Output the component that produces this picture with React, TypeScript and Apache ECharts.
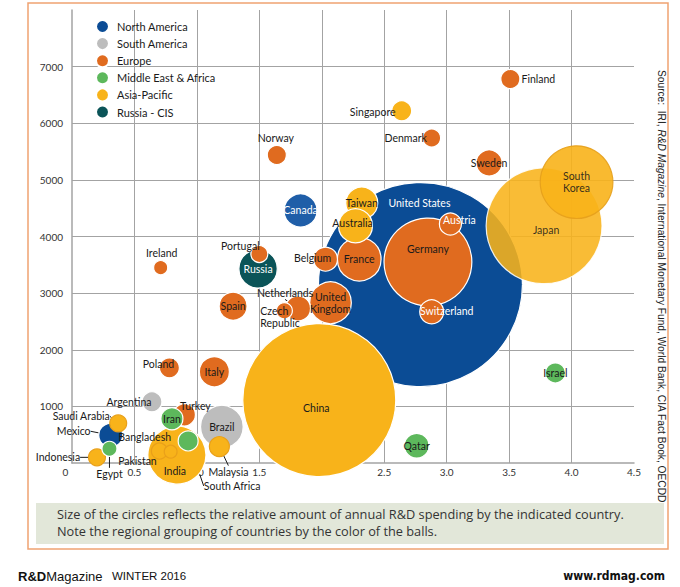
import React, { useEffect, useRef } from "react";
import * as echarts from "echarts";

// ---------- DATA ----------
// Regions (legend order)
const regions = [
  "North America",
  "South America",
  "Europe",
  "Middle East & Africa",
  "Asia-Pacific",
  "Russia - CIS",
];

// Each row: [country, R&D as % of GDP (x), researchers per million (y), R&D spending, $B (bubble area)]
type Row = [string, number, number, number];

const northAmerica: Row[] = [
  ["United States", 2.79, 3150, 480],
  ["Canada", 1.83, 4460, 12.6],
  ["Mexico", 0.31, 490, 6.6],
];

const southAmerica: Row[] = [
  ["Brazil", 1.2, 640, 21],
  ["Argentina", 0.64, 1080, 4.6],
];

const russiaCIS: Row[] = [["Russia", 1.49, 3430, 17]];

const europe: Row[] = [
  ["Finland", 3.51, 6780, 4.2],
  ["Denmark", 2.88, 5740, 3.7],
  ["Norway", 1.64, 5440, 4.2],
  ["Sweden", 3.34, 5300, 7.8],
  ["Germany", 2.85, 3550, 89],
  ["Austria", 3.03, 4220, 5.6],
  ["Switzerland", 2.88, 2670, 6.6],
  ["France", 2.3, 3600, 22],
  ["Belgium", 2.03, 3600, 6.6],
  ["United Kingdom", 2.07, 2830, 20],
  ["Netherlands", 1.81, 2730, 7.2],
  ["Czech Republic", 1.7, 2690, 3.0],
  ["Spain", 1.29, 2770, 9.0],
  ["Ireland", 0.71, 3450, 2.3],
  ["Portugal", 1.5, 3690, 3.3],
  ["Poland", 0.78, 1680, 4.6],
  ["Italy", 1.14, 1610, 10.4],
  ["Turkey", 0.9, 850, 5.6],
];

const asiaPacific: Row[] = [
  ["Singapore", 2.64, 6220, 4.6],
  ["Japan", 3.78, 4190, 155],
  ["South Korea", 4.04, 4960, 61],
  ["Taiwan", 2.32, 4590, 11.8],
  ["Australia", 2.27, 4190, 13.3],
  ["China", 1.98, 1110, 270],
  ["India", 0.84, 140, 39],
  ["Pakistan", 0.7, 210, 3.0],
  ["Bangladesh", 0.79, 200, 1.9],
  ["Malaysia", 1.18, 290, 4.6],
  ["Saudi Arabia", 0.37, 700, 3.3],
  ["Indonesia", 0.2, 100, 3.3],
];

const middleEastAfrica: Row[] = [
  ["Israel", 3.87, 1590, 4.6],
  ["Qatar", 2.76, 305, 7.0],
  ["Iran", 0.8, 780, 5.6],
  ["South Africa", 0.93, 390, 4.6],
  ["Egypt", 0.3, 250, 2.6],
];

const xTicks = [0, 0.5, 1, 1.5, 2, 2.5, 3, 3.5, 4, 4.5];
const yTicks = [0, 1000, 2000, 3000, 4000, 5000, 6000, 7000];

// ---------- STYLE / LAYOUT ----------
const FONT = "Lato, 'Open Sans', sans-serif";
const CAPTION_FONT = "'Open Sans', Lato, sans-serif";
const ARIAL = "'Liberation Sans', Arial, sans-serif";
const NARROW = "'Liberation Sans Narrow', 'DejaVu Sans Condensed', Arial, sans-serif";

const regionColor: Record<string, string> = {
  "North America": "#0b4c95",
  "South America": "#bdbdbd",
  Europe: "#e06b1f",
  "Middle East & Africa": "#5db85c",
  "Asia-Pacific": "#f8b31a",
  "Russia - CIS": "#0b5458",
};

// label offsets (px) from bubble centre
const labelOffset: Record<string, [number, number]> = {
  "United States": [-1, -82],
  Mexico: [-37, -4],
  "Saudi Arabia": [-37, -7],
  Indonesia: [-39, 0],
  Egypt: [0, 25],
  Pakistan: [-22, 10],
  Bangladesh: [-26, -15],
  India: [-2, 16],
  "South Africa": [44, 45],
  Malaysia: [9, 25],
  Argentina: [-23, 0],
  Turkey: [11, -9],
  Poland: [-11, -4],
  Ireland: [1, -15],
  Portugal: [-19, -8],
  Norway: [-1, -17],
  Denmark: [-26, 0],
  Singapore: [-29, 1],
  Finland: [28, 0],
  Australia: [-3, -3],
  Belgium: [-13, -1],
  Germany: [0, -13],
  Austria: [9, -4],
  Switzerland: [15, -1],
  Netherlands: [-13, -15],
  "Czech Republic": [-24, 6],
  Japan: [2, 4],
  China: [-3, 8],
};

const leaderLines = new Set([
  "Mexico",
  "Saudi Arabia",
  "Indonesia",
  "Egypt",
  "Pakistan",
  "Bangladesh",
  "South Africa",
  "Malaysia",
  "Netherlands",
]);

const whiteLabels = new Set(["United States", "Canada", "Russia", "Austria", "Switzerland"]);

const labelText: Record<string, string> = {
  "United Kingdom": "United\nKingdom",
  "South Korea": "South\nKorea",
  "Czech Republic": "Czech\nRepublic",
};

const itemOverride: Record<string, any> = {
  Canada: { color: "#1f5ea8" },
  Japan: { opacity: 0.88 },
  "South Korea": { opacity: 0.9, borderColor: "#e6a01c" },
  Pakistan: { borderColor: "#e9a01a" },
  Bangladesh: { borderColor: "#e9a01a" },
  "Saudi Arabia": { borderColor: "#e9a01a" },
  Indonesia: { borderColor: "#e9a01a" },
  Malaysia: { borderColor: "#e9a01a" },
};

const seriesOrder: [string, Row[]][] = [
  ["North America", northAmerica],
  ["South America", southAmerica],
  ["Russia - CIS", russiaCIS],
  ["Europe", europe],
  ["Asia-Pacific", asiaPacific],
  ["Middle East & Africa", middleEastAfrica],
];

const K = 9.31; // diameter per sqrt($B)

export default function App() {
  const ref = useRef<HTMLDivElement>(null);

  useEffect(() => {
    if (!ref.current) return;
    const chart = echarts.init(ref.current, undefined, { renderer: "svg" });

    const series = seriesOrder.map(([region, rows]) => ({
      type: "scatter",
      name: region,
      z: 2,
      data: rows.map((r) => {
        const name = r[0];
        const item: any = {
          name,
          value: [r[1], r[2], r[3]],
          itemStyle: { ...(itemOverride[name] || {}) },
          label: {
            color: whiteLabels.has(name) ? "#ffffff" : "#1a1a1a",
          },
        };
        if (name === "Czech Republic") item.label.align = "left";
        if (leaderLines.has(name)) {
          item.labelLine = { show: true, lineStyle: { color: "#1a1a1a", width: 1 } };
        }
        return item;
      }),
      symbol: "circle",
      symbolSize: (v: number[]) => K * Math.sqrt(v[2]),
      itemStyle: {
        color: regionColor[region],
        borderColor: "#ffffff",
        borderWidth: 1.2,
        opacity: 1,
      },
      label: {
        show: true,
        position: "inside",
        fontFamily: FONT,
        fontSize: 10.5,
        lineHeight: 12,
        formatter: (p: any) => labelText[p.name] || p.name,
      },
      labelLine: { show: false },
      labelLayout: (p: any) => {
        const row = rows[p.dataIndex];
        const o = row ? labelOffset[row[0]] : undefined;
        return o ? { dx: o[0], dy: o[1] } : {};
      },
      emphasis: { disabled: true },
    }));

    const option: any = {
      animation: false,
      backgroundColor: "#ffffff",
      textStyle: { fontFamily: FONT },
      legend: {
        data: regions,
        orient: "vertical",
        left: 95,
        top: 19,
        padding: 0,
        itemWidth: 13,
        itemHeight: 13,
        itemGap: 2.1,
        icon: "circle",
        selectedMode: false,
        textStyle: {
          fontFamily: FONT,
          fontSize: 11,
          color: "#1a1a1a",
          padding: [0, 0, 0, 3],
          lineHeight: 13,
        },
      },
      grid: { left: 72, right: 46, top: 10, bottom: 124, containLabel: false },
      xAxis: {
        type: "value",
        min: xTicks[0],
        max: xTicks[xTicks.length - 1],
        interval: 0.5,
        axisLine: { show: true, lineStyle: { color: "#a3a3a3", width: 1.5 } },
        axisTick: { show: false },
        splitLine: {
          show: true,
          showMinLine: false,
          showMaxLine: false,
          lineStyle: { color: "#a3a3a3", width: 1 },
        },
        axisLabel: {
          color: "#333",
          fontSize: 10,
          fontFamily: FONT,
          margin: 4,
          formatter: (v: number) => (v === 0 ? "{z|0}" : v.toFixed(1)),
          rich: { z: { padding: [0, 13, 0, 0], fontSize: 10, fontFamily: FONT, color: "#333" } },
        },
      },
      yAxis: {
        type: "value",
        min: yTicks[0],
        max: 8000,
        interval: 1000,
        axisLine: { show: true, lineStyle: { color: "#a3a3a3", width: 1.5 } },
        axisTick: { show: false },
        splitLine: {
          show: true,
          showMinLine: false,
          showMaxLine: false,
          lineStyle: { color: "#a3a3a3", width: 1 },
        },
        axisLabel: {
          color: "#333",
          fontSize: 10,
          fontFamily: FONT,
          margin: 9,
          showMinLabel: false,
          showMaxLabel: false,
          formatter: (v: number) => (yTicks.includes(v) && v !== 0 ? String(v) : ""),
        },
      },
      series,
      graphic: [
        {
          type: "rect",
          z: 0,
          silent: true,
          shape: { x: 28, y: 3, width: 640, height: 546 },
          style: { fill: "none", stroke: "#f0a272", lineWidth: 1.5 },
        },
        {
          type: "rect",
          z: 0,
          silent: true,
          shape: { x: 36, y: 503, width: 628, height: 41 },
          style: { fill: "#e2e7d9" },
        },
        {
          type: "text",
          x: 57,
          y: 514,
          silent: true,
          style: {
            text: "Size of the circles reflects the relative amount of annual R&D spending by the indicated country.",
            fontFamily: CAPTION_FONT,
            fontSize: 12.75,
            fill: "#333",
            textAlign: "left",
            textVerticalAlign: "middle",
            align: "left",
            verticalAlign: "middle",
          },
        },
        {
          type: "text",
          x: 57,
          y: 531,
          silent: true,
          style: {
            text: "Note the regional grouping of countries by the color of the balls.",
            fontFamily: CAPTION_FONT,
            fontSize: 12.75,
            fill: "#333",
            textAlign: "left",
            textVerticalAlign: "middle",
            align: "left",
            verticalAlign: "middle",
          },
        },
        {
          type: "text",
          x: 661,
          y: 70,
          rotation: -Math.PI / 2,
          silent: true,
          style: {
            text: "Source:  IRI, {i|R&D Magazine}, International Monetary Fund, World Bank, CIA Fact Book, OECDD",
            rich: { i: { fontStyle: "italic", fontFamily: ARIAL, fontSize: 10.2, fill: "#222" } },
            fontFamily: ARIAL,
            fontSize: 10.2,
            fill: "#222",
            textAlign: "left",
            textVerticalAlign: "middle",
            align: "left",
            verticalAlign: "middle",
          },
        },
        {
          type: "text",
          x: 18,
          y: 576,
          silent: true,
          style: {
            text: "{b|R&D}{r|Magazine}",
            rich: {
              b: { fontFamily: ARIAL, fontWeight: "bold", fontSize: 13, fill: "#111" },
              r: { fontFamily: ARIAL, fontSize: 13, fill: "#111" },
            },
            textAlign: "left",
            textVerticalAlign: "middle",
            align: "left",
            verticalAlign: "middle",
          },
        },
        {
          type: "text",
          x: 112,
          y: 576,
          silent: true,
          style: {
            text: "WINTER 2016",
            fontFamily: ARIAL,
            fontSize: 11.5,
            fill: "#111",
            textAlign: "left",
            textVerticalAlign: "middle",
            align: "left",
            verticalAlign: "middle",
          },
        },
        {
          type: "text",
          x: 665,
          y: 576,
          silent: true,
          style: {
            text: "www.rdmag.com",
            fontFamily: NARROW,
            fontWeight: "bold",
            fontSize: 12,
            fill: "#111",
            textAlign: "right",
            textVerticalAlign: "middle",
            align: "right",
            verticalAlign: "middle",
          },
        },
      ],
    };

    chart.setOption(option);
    return () => chart.dispose();
  }, []);

  return (
    <div
      ref={ref}
      style={{ position: "absolute", left: 0, top: 0, width: 680, height: 587, background: "#fff" }}
    />
  );
}
